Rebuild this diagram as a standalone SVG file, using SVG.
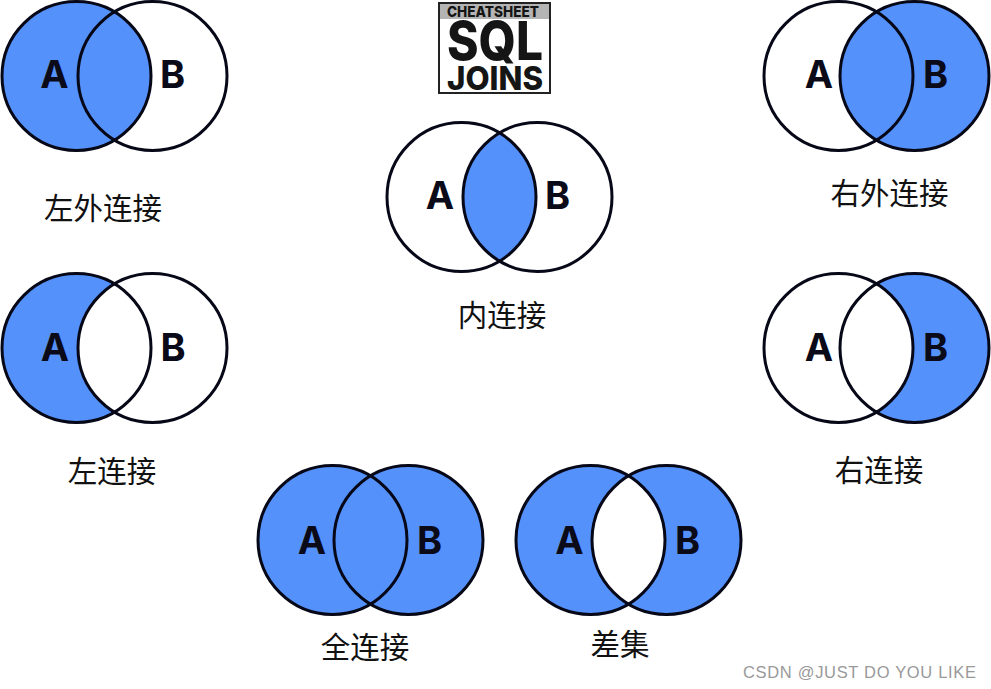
<svg xmlns="http://www.w3.org/2000/svg" width="991" height="689" viewBox="0 0 991 689">
<style>
.f{fill:#5591fa}
.c{fill:none;stroke:#060818;stroke-width:3}
.l{font-family:"Inter","Liberation Sans",sans-serif;font-weight:700;font-size:38px;fill:#0a0a18;text-anchor:middle}
.t{font-family:"Noto Sans CJK SC","Noto Sans",sans-serif;font-size:29.5px;fill:#111;text-anchor:middle}
.h{font-family:"Inter","Liberation Sans",sans-serif;font-weight:800;fill:#151515;text-anchor:middle}
</style>
<defs>
<path id="left" class="f" d="M38,-64.1A74.5,74.5 0 1 0 38,64.1A74.5,74.5 0 0 1 38,-64.1Z"/>
<path id="right" class="f" d="M38,-64.1A74.5,74.5 0 1 1 38,64.1A74.5,74.5 0 0 0 38,-64.1Z"/>
<path id="mid" class="f" d="M38,-64.1A74.5,74.5 0 0 1 38,64.1A74.5,74.5 0 0 1 38,-64.1Z"/>
<g id="outline"><circle class="c" cx="0" cy="0" r="74.5"/><circle class="c" cx="76" cy="0" r="74.5"/></g>
</defs>
<g id="logo">
<rect x="439" y="3" width="111" height="90" fill="#fff" stroke="#222" stroke-width="2"/>
<rect x="440" y="4" width="109" height="15" fill="#b4b4b4"/>
<text class="h" x="493" y="17" font-size="15" textLength="92" lengthAdjust="spacingAndGlyphs">CHEATSHEET</text>
<text class="h" x="495" y="60" font-size="54" textLength="96" lengthAdjust="spacingAndGlyphs">SQL</text>
<text class="h" x="495" y="90" font-size="33" font-weight="700" textLength="96" lengthAdjust="spacingAndGlyphs">JOINS</text>
</g>
<g id="left-outer" transform="translate(76.5,76)">
<use href="#left"/><use href="#mid"/><use href="#outline"/>
<text class="l" x="-22" y="12">A</text><text class="l" x="96" y="12">B</text>
<text class="t" x="26.5" y="143">左外连接</text>
</g>
<g id="right-outer" transform="translate(838.5,76)">
<use href="#right"/><use href="#mid"/><use href="#outline"/>
<text class="l" x="-19.5" y="12">A</text><text class="l" x="97" y="12">B</text>
<text class="t" x="51" y="128">右外连接</text>
</g>
<g id="inner" transform="translate(461.5,197)">
<use href="#mid"/><use href="#outline"/>
<text class="l" x="-21.5" y="12">A</text><text class="l" x="96" y="12">B</text>
<text class="t" x="40.5" y="129">内连接</text>
</g>
<g id="left-join" transform="translate(76.5,348)">
<use href="#left"/><use href="#outline"/>
<text class="l" x="-21.5" y="13">A</text><text class="l" x="96.5" y="13">B</text>
<text class="t" x="35.5" y="134">左连接</text>
</g>
<g id="right-join" transform="translate(838.5,348)">
<use href="#right"/><use href="#outline"/>
<text class="l" x="-19.5" y="13">A</text><text class="l" x="97" y="13">B</text>
<text class="t" x="40.5" y="133">右连接</text>
</g>
<g id="full-join" transform="translate(332.5,540)">
<use href="#left"/><use href="#right"/><use href="#mid"/><use href="#outline"/>
<text class="l" x="-20.5" y="14">A</text><text class="l" x="97" y="14">B</text>
<text class="t" x="32.5" y="118">全连接</text>
</g>
<g id="difference" transform="translate(590.5,540)">
<use href="#left"/><use href="#right"/><use href="#outline"/>
<text class="l" x="-21" y="14">A</text><text class="l" x="97" y="14">B</text>
<text class="t" x="29.5" y="115">差集</text>
</g>
<text id="watermark" x="743" y="678" font-family="Liberation Sans,sans-serif" font-size="16.5" fill="#999" textLength="233">CSDN @JUST DO YOU LIKE</text>
</svg>
